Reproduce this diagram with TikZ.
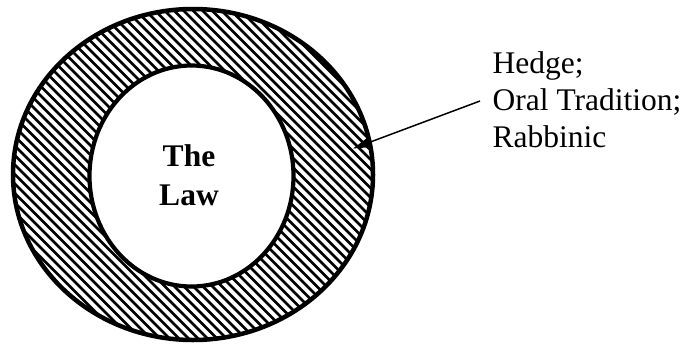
\documentclass[tikz,border=0pt]{standalone}
\usepackage{fontspec}
\setmainfont{Liberation Serif}
\usetikzlibrary{arrows.meta}
\tikzset{
  ring/.style={line width=4.5pt},
  hatch/.style={line width=2.7pt},
  lbl/.style={font=\fontsize{31.5}{37}\selectfont, inner sep=0pt, anchor=base west},
  lawtxt/.style={font=\fontsize{31.5}{39}\bfseries, inner sep=0pt, anchor=base},
  pointer/.style={line width=1.5pt, -{Triangle[length=18pt,width=10pt]}}
}
\begin{document}
\begin{tikzpicture}[x=1pt,y=-1pt]
\useasboundingbox (0,0) rectangle (687,343);
% hatched annulus
\begin{scope}[even odd rule]
  \clip (193,174.5) ellipse [x radius=180, y radius=165.5]
        (191.5,176) ellipse [x radius=102, y radius=110.5];
  \foreach \c in {-420,-410.5,...,270} {
    \draw[hatch] (0,\c) -- (400,\c+400);
  }
\end{scope}
\draw[ring] (193,174.5) ellipse [x radius=180, y radius=165.5];
\draw[ring, line width=4.2pt] (191.5,176) ellipse [x radius=102, y radius=110.5];
% text
\node[lawtxt] (the) at (189,166) {The};
\node[lawtxt] (law) at (189,205) {Law};
\node[lbl] (h1) at (492.5,73) {Hedge;};
\node[lbl] (h2) at (492.5,110) {Oral Tradition;};
\node[lbl] (h3) at (492.5,147) {Rabbinic};
\coordinate (src) at (480,101);
\coordinate (tip) at (353,148.5);
\draw[pointer] (src) -- (tip);
\end{tikzpicture}
\end{document}
